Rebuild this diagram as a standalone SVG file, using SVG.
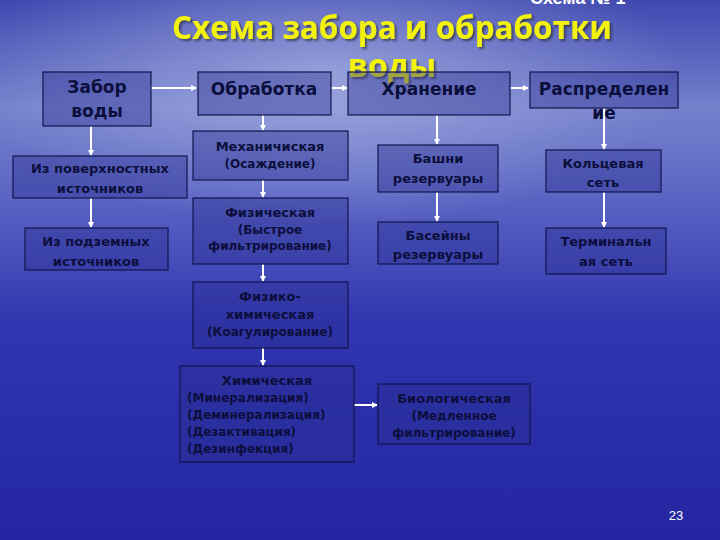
<svg xmlns="http://www.w3.org/2000/svg" width="720" height="540" viewBox="0 0 720 540">
<defs>
<linearGradient id="bg" x1="0" y1="0" x2="0" y2="1">
<stop offset="0" stop-color="#3e48b0"/>
<stop offset="0.2" stop-color="#7480cc"/>
<stop offset="0.35" stop-color="#5d68c4"/>
<stop offset="0.6" stop-color="#3035b0"/>
<stop offset="1" stop-color="#2326a0"/>
</linearGradient>
<radialGradient id="glow" cx="0.45" cy="0.25" r="0.5">
<stop offset="0" stop-color="#c8d2f0" stop-opacity="0.5"/>
<stop offset="1" stop-color="#c8d2f0" stop-opacity="0"/>
</radialGradient>
<filter id="sh"><feDropShadow dx="2" dy="2" stdDeviation="0.8" flood-color="#222" flood-opacity="0.6"/></filter>
<marker id="ah" markerWidth="6" markerHeight="6" refX="5" refY="3" orient="auto" markerUnits="userSpaceOnUse">
<path d="M0,0 L6,3 L0,6 Z" fill="#ffffff"/>
</marker>
<style>
.b{fill:#2a2f90;fill-opacity:0.4;stroke:#12154e;stroke-width:1.2}
.t{font-family:"DejaVu Sans",sans-serif;font-weight:bold;fill:#0c0e3c;text-anchor:middle;font-size:13px}
.h{font-size:17px}
.s{font-size:12px}
.l{text-anchor:start}
.c{stroke:#ffffff;stroke-width:2;fill:none;marker-end:url(#ah)}
</style>
</defs>
<rect width="720" height="540" fill="url(#bg)"/>
<rect width="720" height="300" fill="url(#glow)"/>
<text x="530" y="4" font-family="Liberation Sans,sans-serif" font-weight="bold" font-size="18" fill="#ffffff">Схема № 1</text>
<g id="title" font-family="'Open Sans','DejaVu Sans',sans-serif" font-weight="bold" font-size="32" text-anchor="middle" fill="#f2f20a" filter="url(#sh)">
<text x="392" y="39" textLength="440" lengthAdjust="spacingAndGlyphs">Схема забора и обработки</text>
<text x="392" y="77">воды</text>
</g>
<g id="connectors">
<line class="c" x1="151" y1="88" x2="196" y2="88"/>
<line class="c" x1="331" y1="88" x2="347" y2="88"/>
<line class="c" x1="510" y1="88" x2="528" y2="88"/>
<line class="c" x1="91" y1="126" x2="91" y2="155"/>
<line class="c" x1="91" y1="198" x2="91" y2="227"/>
<line class="c" x1="263" y1="115" x2="263" y2="130"/>
<line class="c" x1="263" y1="180" x2="263" y2="197"/>
<line class="c" x1="263" y1="264" x2="263" y2="281"/>
<line class="c" x1="263" y1="348" x2="263" y2="365"/>
<line class="c" x1="437" y1="115" x2="437" y2="144"/>
<line class="c" x1="437" y1="192" x2="437" y2="221"/>
<line class="c" x1="604" y1="108" x2="604" y2="149"/>
<line class="c" x1="604" y1="192" x2="604" y2="227"/>
<line class="c" x1="354" y1="405" x2="377" y2="405"/>
</g>
<g id="zabor"><rect class="b" x="43" y="72" width="108" height="54"/><text class="t h" x="97" y="93">Забор</text><text class="t h" x="97" y="117">воды</text></g>
<g id="obrabotka"><rect class="b" x="198" y="72" width="133" height="43"/><text class="t h" x="264" y="95">Обработка</text></g>
<g id="hranenie"><rect class="b" x="348" y="72" width="162" height="43"/><text class="t h" x="429" y="95">Хранение</text></g>
<g id="raspred"><rect class="b" x="530" y="72" width="148" height="36"/><text class="t h" x="604" y="95">Распределен</text><text class="t h" x="604" y="119">ие</text></g>
<g id="poverh"><rect class="b" x="13" y="156" width="174" height="42"/><text class="t" x="100" y="173">Из поверхностных</text><text class="t" x="100" y="193">источников</text></g>
<g id="podzem"><rect class="b" x="25" y="228" width="143" height="42"/><text class="t" x="96" y="246">Из подземных</text><text class="t" x="96" y="266">источников</text></g>
<g id="meh"><rect class="b" x="193" y="131" width="155" height="49"/><text class="t" x="270" y="151">Механичиская</text><text class="t s" x="270" y="168">(Осаждение)</text></g>
<g id="fiz"><rect class="b" x="193" y="198" width="155" height="66"/><text class="t" x="270" y="217">Физическая</text><text class="t s" x="270" y="234">(Быстрое</text><text class="t s" x="270" y="250">фильтрирование)</text></g>
<g id="fizhim"><rect class="b" x="193" y="282" width="155" height="66"/><text class="t" x="270" y="301">Физико-</text><text class="t" x="270" y="319">химическая</text><text class="t s" x="270" y="336">(Коагулирование)</text></g>
<g id="him"><rect class="b" x="180" y="366" width="174" height="96"/><text class="t" x="267" y="385">Химическая</text><text class="t s l" x="187" y="402">(Минерализация)</text><text class="t s l" x="187" y="419">(Деминерализация)</text><text class="t s l" x="187" y="436">(Дезактивация)</text><text class="t s l" x="187" y="453">(Дезинфекция)</text></g>
<g id="bashni"><rect class="b" x="378" y="145" width="120" height="47"/><text class="t" x="438" y="163">Башни</text><text class="t" x="438" y="183">резервуары</text></g>
<g id="baseiny"><rect class="b" x="378" y="222" width="120" height="42"/><text class="t" x="438" y="240">Басейны</text><text class="t" x="438" y="259">резервуары</text></g>
<g id="bio"><rect class="b" x="378" y="384" width="152" height="60"/><text class="t" x="454" y="403">Биологическая</text><text class="t s" x="454" y="420">(Медленное</text><text class="t s" x="454" y="437">фильтрирование)</text></g>
<g id="kolc"><rect class="b" x="546" y="150" width="115" height="42"/><text class="t" x="603" y="168">Кольцевая</text><text class="t" x="603" y="187">сеть</text></g>
<g id="term"><rect class="b" x="546" y="228" width="120" height="46"/><text class="t" x="606" y="246">Терминальн</text><text class="t" x="606" y="266">ая сеть</text></g>
<text x="676" y="520" font-family="Liberation Sans,sans-serif" font-size="13" fill="#ffffff" text-anchor="middle">23</text>
</svg>
